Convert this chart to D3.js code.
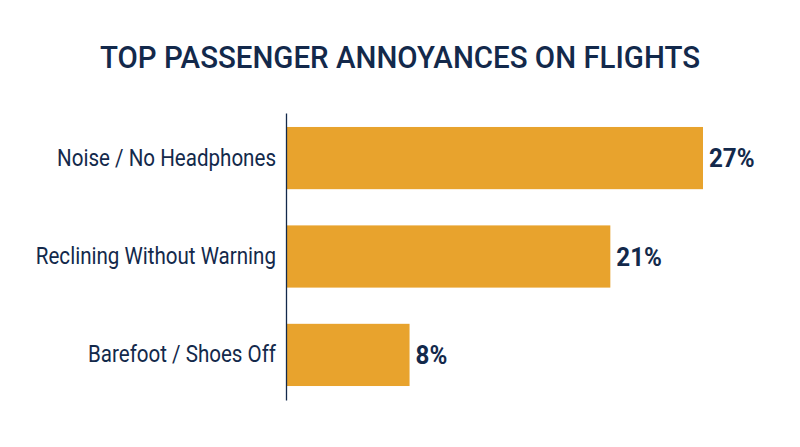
<!DOCTYPE html>
<html>
<head>
<meta charset="utf-8">
<script src="https://cdn.jsdelivr.net/npm/d3@7"></script>
<style>
  body { margin: 0; background: #fff; }
  svg { display: block; }
</style>
</head>
<body>
<div id="chart"></div>
<script>
var categories = ["Noise / No Headphones", "Reclining Without Warning", "Barefoot / Shoes Off"];
var values = [27, 21, 8];
var valueLabels = ["27%", "21%", "8%"];

var w = 800;
var h = 447;
var navy = "#13294b";
var gold = "#e8a32d";

var axisX = 286;

var svg = d3
  .select("#chart")
  .append("svg")
  .attr("width", w)
  .attr("height", h);

// title
svg
  .append("text")
  .attr("x", 400)
  .attr("y", 68)
  .attr("text-anchor", "middle")
  .attr("font-family", "Roboto")
  .attr("font-weight", 500)
  .attr("font-size", 32)
  .attr("textLength", 600)
  .attr("lengthAdjust", "spacingAndGlyphs")
  .attr("fill", navy)
  .text("TOP PASSENGER ANNOYANCES ON FLIGHTS");

var xScale = d3.scaleLinear().domain([0, 27]).range([axisX, 703]);

var yScale = d3
  .scaleBand()
  .domain(categories)
  .range([113, 400])
  .paddingInner(0.368)
  .paddingOuter(0.142);

var data = categories.map(function(c, i) {
  return { cat: c, val: values[i], lab: valueLabels[i] };
});

svg
  .selectAll("rect.bar")
  .data(data)
  .enter()
  .append("rect")
  .attr("class", "bar")
  .attr("x", xScale(0))
  .attr("y", function(d) { return yScale(d.cat); })
  .attr("width", function(d) { return xScale(d.val) - xScale(0); })
  .attr("height", yScale.bandwidth())
  .attr("fill", gold);

// axis line with category labels
var yAxis = d3.axisLeft(yScale).tickSize(0).tickPadding(10);
var gy = svg
  .append("g")
  .attr("transform", "translate(" + axisX + ",0)")
  .call(yAxis);
gy.select(".domain").attr("stroke", navy).attr("stroke-width", 1.3);
gy
  .selectAll("text")
  .attr("font-family", "Roboto")
  .attr("font-weight", 400)
  .attr("font-size", 23.5)
  .attr("fill", navy)
  .each(function() {
    // the original face is condensed, squeeze the glyphs a bit
    var len = this.getComputedTextLength();
    d3.select(this)
      .attr("textLength", len * 0.875)
      .attr("lengthAdjust", "spacingAndGlyphs");
  });

// value labels
svg
  .selectAll("text.val")
  .data(data)
  .enter()
  .append("text")
  .attr("class", "val")
  .attr("x", function(d) { return xScale(d.val) + 6; })
  .attr("y", function(d) { return yScale(d.cat) + yScale.bandwidth() / 2; })
  .attr("dy", "0.35em")
  .attr("font-family", "Roboto")
  .attr("font-weight", 700)
  .attr("font-size", 26)
  .attr("fill", navy)
  .text(function(d) { return d.lab; })
  .each(function() {
    var len = this.getComputedTextLength();
    d3.select(this)
      .attr("textLength", len * 0.93)
      .attr("lengthAdjust", "spacingAndGlyphs");
  });
</script>
</body>
</html>
